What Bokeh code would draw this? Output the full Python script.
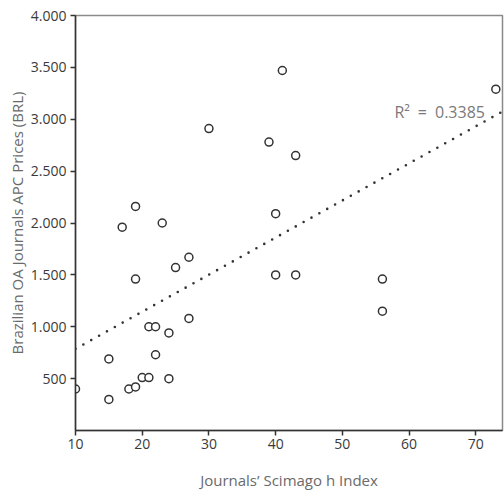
from bokeh.plotting import figure
from bokeh.models import FixedTicker, Label, Range1d
from bokeh.embed import file_html
from bokeh.resources import INLINE

# Data
h_index = [10, 15, 15, 17, 18, 19, 19, 19, 20, 21, 21, 22, 22, 23, 24, 24,
           25, 27, 27, 30, 39, 40, 40, 41, 43, 43, 56, 56, 73]
apc_brl = [400, 300, 690, 1960, 400, 420, 1460, 2160, 510, 510, 1000, 1000, 730, 2000, 940, 500,
           1570, 1670, 1080, 2910, 2780, 2090, 1500, 3470, 2650, 1500, 1460, 1150, 3290]

trend_x = [10, 74]
trend_y = [787, 3075]
r2_text = "R\u00b2\u2002=\u20020.3385"

x_ticks = [10, 20, 30, 40, 50, 60, 70]
y_ticks = [500, 1000, 1500, 2000, 2500, 3000, 3500, 4000]

FONT = "Open Sans"

p = figure(frame_width=427, frame_height=415, output_backend="svg", toolbar_location=None,
           x_range=Range1d(10, 74), y_range=Range1d(0, 4000),
           min_border_left=75, min_border_top=15, min_border_right=2, min_border_bottom=0)

p.background_fill_color = "white"
p.border_fill_color = "white"
p.outline_line_color = "#8a8a8a"
p.outline_line_width = 1.5
p.grid.visible = False

# trend line
p.line(trend_x, trend_y, line_color="#333333", line_width=2.6, line_dash="0 9", line_cap="round")

# points
p.scatter(h_index, apc_brl, marker="circle", size=8, fill_color="white",
          line_color="#333333", line_width=1.5)

p.add_layout(Label(x=57.8, y=3070, text=r2_text, text_font=FONT, text_font_size="16px",
                   text_color="#7a7a7a", text_baseline="middle", text_align="left"))

# axes
p.xaxis.ticker = FixedTicker(ticks=x_ticks)
p.yaxis.ticker = FixedTicker(ticks=y_ticks)
p.yaxis.major_label_overrides = {t: (f"{t:,}".replace(",", ".")) for t in y_ticks}
p.xaxis.major_label_overrides = {t: str(t) for t in x_ticks}

for ax in (p.xaxis, p.yaxis):
    ax.axis_line_color = "#333333"
    ax.axis_line_width = 1.5
    ax.major_tick_line_color = "#333333"
    ax.major_tick_line_width = 1.5
    ax.major_tick_in = 0
    ax.major_tick_out = 5
    ax.minor_tick_line_color = None
    ax.major_label_text_font = FONT
    ax.major_label_text_font_size = "14px"
    ax.major_label_text_color = "#3a3a3a"
    ax.axis_label_text_font = FONT
    ax.axis_label_text_font_style = "normal"
    ax.axis_label_text_color = "#6a6a6a"

p.xaxis.axis_label_text_font_size = "15px"
p.yaxis.axis_label_text_font_size = "15px"
p.xaxis.axis_label = "Journals\u2019 Scimago h Index"
p.yaxis.axis_label = "Brazilian OA Journals APC Prices (BRL)"
p.xaxis.major_label_standoff = 3
p.yaxis.major_label_standoff = 4
p.xaxis.axis_label_standoff = 18
p.yaxis.axis_label_standoff = 1

open("out.html", "w").write(file_html(p, INLINE))
